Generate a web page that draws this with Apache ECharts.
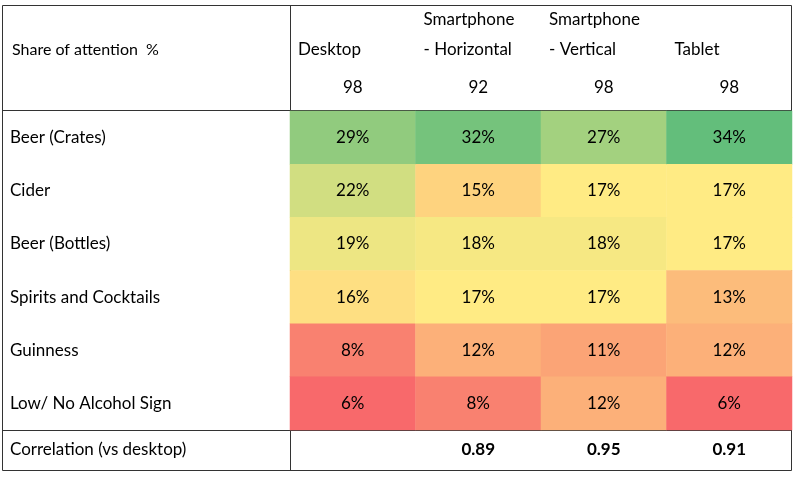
<!DOCTYPE html>
<html><head><meta charset="utf-8">
<script src="https://cdn.jsdelivr.net/npm/echarts@6/dist/echarts.min.js"></script>
<style>html,body{margin:0;padding:0;background:#fff}#c{width:794px;height:479px}</style>
</head><body><div id="c"></div>
<script>
const rows = ['Beer (Crates)','Cider','Beer (Bottles)','Spirits and Cocktails','Guinness','Low/ No Alcohol Sign'];
const cols = ['Desktop','Smartphone - Horizontal','Smartphone - Vertical','Tablet'];
const headerLines = [['Desktop'],['Smartphone','- Horizontal'],['Smartphone','- Vertical'],['Tablet']];
const counts = [98,92,98,98];
const desktop = [29,22,19,16,8,6];
const smartH = [32,15,18,17,12,8];
const smartV = [27,17,18,17,11,12];
const tablet = [34,17,17,13,12,6];
const correlation = ['', '0.89', '0.95', '0.91'];

const FONT = 'Lato';
const series = [desktop, smartH, smartV, tablet];
const data = [];
series.forEach((s,ci)=>s.forEach((v,ri)=>data.push([ci,ri,v])));
function lerp(a,b,t){return a.map((x,i)=>Math.round(x+(b[i]-x)*t));}
const RED=[248,105,107],YEL=[255,235,132],GRN=[99,190,123];
const MIN=6,MID=17,MAX=34;
function col(v){const c=v<=MID?lerp(RED,YEL,(v-MIN)/(MID-MIN)):lerp(YEL,GRN,(v-MID)/(MAX-MID));return 'rgb('+c.join(',')+')';}

const L=290,R=792,T=110,B=430,cw=(R-L)/4;
const g=[];
g.push({type:'rect',shape:{x:2.5,y:5.5,width:789,height:465},style:{fill:'none',stroke:'#333',lineWidth:1}});
g.push({type:'line',shape:{x1:2,y1:110.5,x2:792,y2:110.5},style:{stroke:'#333',lineWidth:1}});
g.push({type:'line',shape:{x1:2,y1:430.5,x2:792,y2:430.5},style:{stroke:'#333',lineWidth:1}});
g.push({type:'line',shape:{x1:290.5,y1:5,x2:290.5,y2:470},style:{stroke:'#333',lineWidth:1}});
g.push({type:'text',x:12,y:50,style:{text:'Share of attention  %',font:'16px '+FONT,fill:'#000',textVerticalAlign:'middle'}});
g.push({type:'text',x:10,y:450,style:{text:'Correlation (vs desktop)',font:'17px '+FONT,fill:'#000',textVerticalAlign:'middle'}});
headerLines.forEach((ls,i)=>{
  const x0=L+cw*i+8, cx=L+cw*(i+0.5);
  const ys = ls.length===2?[20,50]:[50];
  ls.forEach((t,k)=>g.push({type:'text',x:x0,y:ys[k],style:{text:t,font:'17px '+FONT,fill:'#000',textVerticalAlign:'middle'}}));
  g.push({type:'text',x:cx,y:88,style:{text:String(counts[i]),font:'17px '+FONT,fill:'#000',textAlign:'center',textVerticalAlign:'middle'}});
  g.push({type:'text',x:cx,y:450,style:{text:correlation[i],font:'bold 17px '+FONT,fill:'#000',textAlign:'center',textVerticalAlign:'middle'}});
});

const chart=echarts.init(document.getElementById('c'));
chart.setOption({
  animation:false,
  grid:{left:L,right:794-R,top:T+1,bottom:479-B,containLabel:false},
  xAxis:{type:'category',data:cols,show:false},
  yAxis:{type:'category',data:rows,inverse:true,axisLine:{show:false},axisTick:{show:false},
    axisLabel:{align:'left',margin:280,fontFamily:FONT,fontSize:17,color:'#000'}},
  series:[{type:'heatmap',data:data.map(d=>({value:d,itemStyle:{color:col(d[2])}})),
    label:{show:true,formatter:p=>p.value[2]+'%',fontFamily:FONT,fontSize:17,color:'#000'},
    itemStyle:{borderWidth:0}}],
  graphic:g
});
</script></body></html>
